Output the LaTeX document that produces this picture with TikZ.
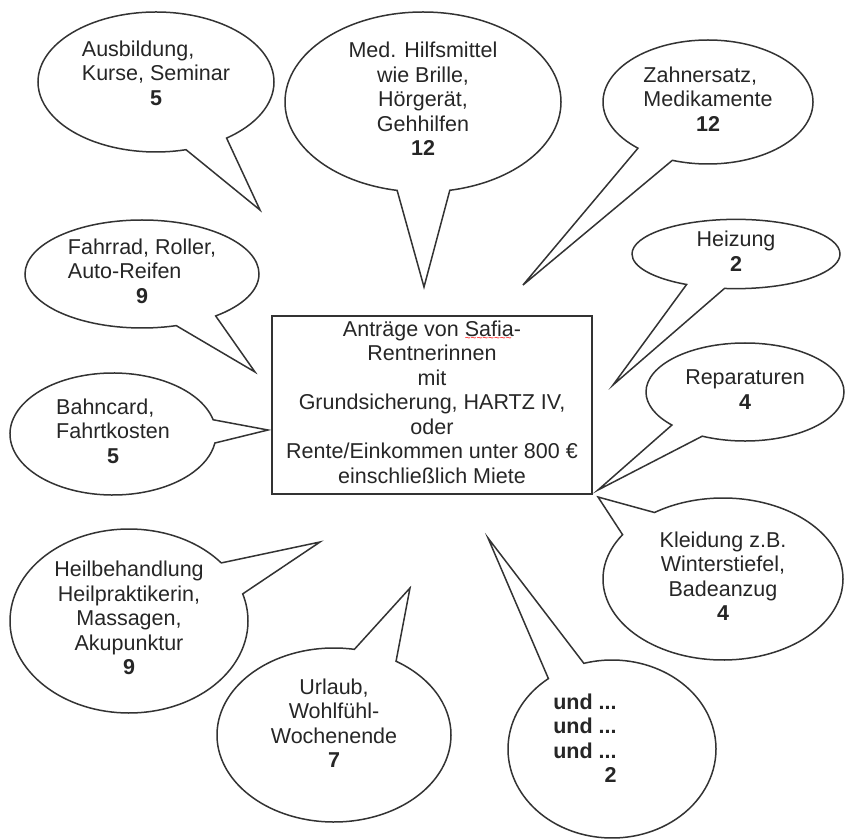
\documentclass[tikz,border=0pt]{standalone}
\usepackage{fontspec}
\setmainfont{Liberation Sans}
\usetikzlibrary{shapes.callouts}

\newcommand{\blasenfont}{\fontsize{10.75}{12.25}\selectfont}
\newcommand{\zeilen}[2]{\begin{tabular}{@{}#1@{}}#2\end{tabular}}
\newcommand{\zahl}[1]{\multicolumn{1}{@{}c@{}}{\textbf{#1}}}
\newlength{\wellenbreite}
\newcommand{\rotwelle}[1]{\settowidth{\wellenbreite}{#1}%
  \rlap{\raisebox{-2.6pt}{\color{red}\fontsize{5}{5}\selectfont\leaders\hbox{\char"7E}\hskip\wellenbreite}}#1}

\tikzset{
  blase/.style={ellipse callout, draw=black!80, line width=0.75pt, fill=white,
    inner sep=0pt, callout pointer arc=22, font=\blasenfont, text=black!85},
  kasten/.style={draw=black!80, line width=0.75pt, inner sep=0pt,
    font=\blasenfont, text=black!85}
}

\begin{document}
\begin{tikzpicture}[x=0.5pt, y=-0.5pt]
    \useasboundingbox (0,0) rectangle (845,839);
    % Mitte
    \node [kasten, minimum width=160pt, minimum height=89pt] (antrag) at (432,405)
      {\zeilen{c}{Anträge von \rotwelle{Safia}-\\Rentnerinnen\\mit\\Grundsicherung, HARTZ IV,\\oder\\Rente/Einkommen unter 800 €\\einschließlich Miete}};

    % Blasen oben
    \node [blase, minimum width=118pt, minimum height=70pt, callout absolute pointer={(260,210)}] (ausbildung) at (156,82)
      {\zeilen{l}{Ausbildung,\\Kurse, Seminar\\\zahl{5\rule[-9.7pt]{0pt}{1pt}}}};
    \node [blase, minimum width=138pt, minimum height=90pt, callout absolute pointer={(424,287)}] (hilfsmittel) at (423,102)
      {\zeilen{c}{Med. Hilfsmittel\\wie Brille,\\Hörgerät,\\Gehhilfen\\\textbf{12}}};
    \node [blase, minimum width=105pt, minimum height=62pt, callout absolute pointer={(523,285)}] (zahnersatz) at (708,102)
      {\zeilen{l}{Zahnersatz,\\Medikamente\\\zahl{12}}};

    % Blasen rechts
    \node [blase, minimum width=104pt, minimum height=34pt, callout absolute pointer={(613,385)}] (heizung) at (736,254)
      {\zeilen{c}{Heizung\\\textbf{2}}};
    \node [blase, minimum width=99pt, minimum height=49pt, callout absolute pointer={(598,490)}] (reparaturen) at (745,392)
      {\zeilen{c}{Reparaturen\\\textbf{4}}};
    \node [blase, minimum width=120pt, minimum height=81pt, callout absolute pointer={(598,497)}] (kleidung) at (723,579)
      {\zeilen{c}{Kleidung z.B.\\Winterstiefel,\\Badeanzug\\\textbf{4}}};

    % Blasen unten
    \node [blase, minimum width=104pt, minimum height=89pt, callout absolute pointer={(488,538)}] (und) at (612,749)
      {\begin{tabular}{@{}r@{\hspace{27pt}}}\textbf{und ...}\\\textbf{und ...}\\\textbf{und ...}\\\textbf{2}\rule[-11.7pt]{0pt}{1pt}\end{tabular}};
    \node [blase, minimum width=117pt, minimum height=87pt, callout absolute pointer={(410,588)}] (urlaub) at (334,735)
      {\zeilen{c}{Urlaub,\\Wohlfühl-\\Wochenende\\\textbf{7}\rule[-12.7pt]{0pt}{1pt}}};

    % Blasen links
    \node [blase, minimum width=119pt, minimum height=92pt, callout absolute pointer={(320,542)}] (heilbehandlung) at (129,621)
      {\zeilen{c}{Heilbehandlung\\Heilpraktikerin,\\Massagen,\\Akupunktur\\\textbf{9}}};
    \node [blase, minimum width=103pt, minimum height=61pt, callout absolute pointer={(268,430)}] (bahncard) at (113,434)
      {\zeilen{l}{Bahncard,\\Fahrtkosten\\\zahl{5}}};
    \node [blase, minimum width=117pt, minimum height=54pt, callout absolute pointer={(255,372)}] (fahrrad) at (142,274)
      {\zeilen{l}{Fahrrad, Roller,\\Auto-Reifen\\\zahl{9}}};

\end{tikzpicture}
\end{document}
